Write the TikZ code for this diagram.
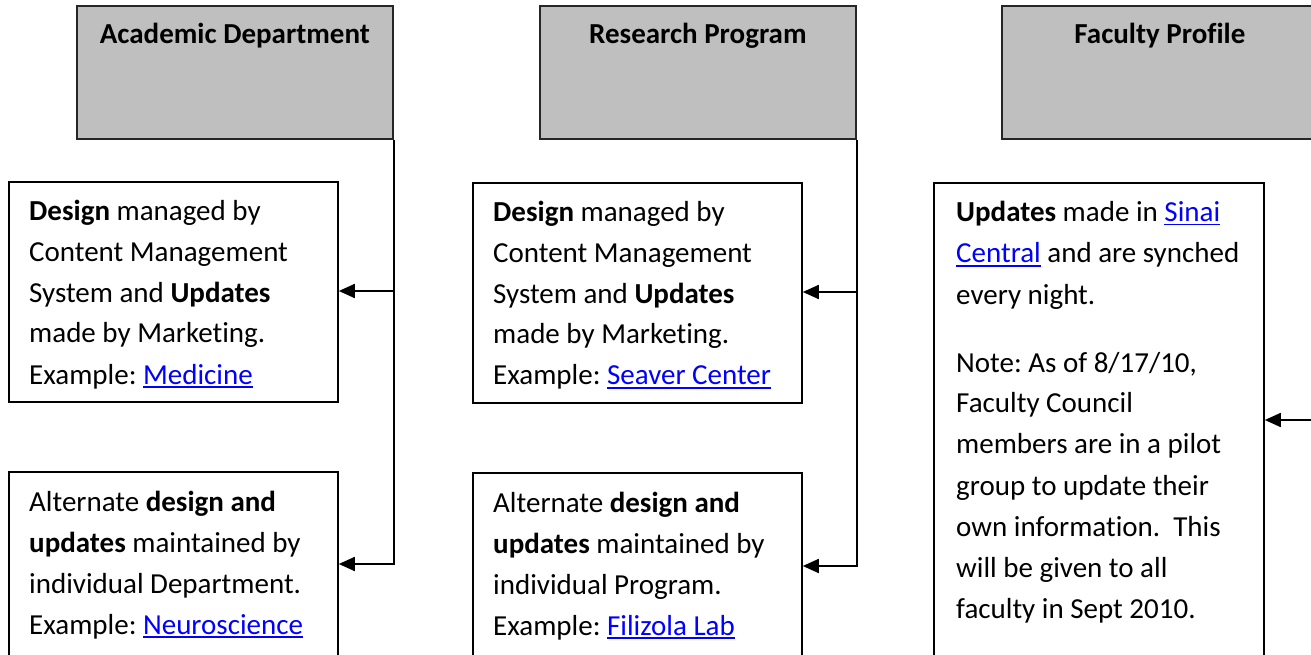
\documentclass[tikz,border=0pt]{standalone}
\usepackage{fontspec}
\setmainfont{Carlito}[Ligatures=NoCommon]
\usetikzlibrary{arrows.meta}
\definecolor{hdrgray}{RGB}{191,191,191}
\definecolor{linkblue}{RGB}{0,0,255}
\newcommand\lnk[1]{\textcolor{linkblue}{\setbox0\hbox{#1}\rlap{\rule[-3.5pt]{\wd0}{1.6pt}}\box0}}
\frenchspacing
\tikzset{
  hdr/.style={draw=black!85, line width=1.8pt, fill=hdrgray, anchor=north west, inner sep=0pt,
              minimum width=316pt, minimum height=133pt},
  infobox/.style={draw=black, line width=1.8pt, fill=white, anchor=north west, inner sep=0pt,
              minimum width=329pt},
  hdrtxt/.style={anchor=base, inner sep=0pt, font=\fontsize{29}{41}\selectfont\bfseries},
  bodytxt/.style={anchor=base west, inner sep=0pt, font=\fontsize{29}{41}\selectfont, align=left},
  conn/.style={line width=1.8pt, draw=black},
  arr/.style={conn, -{Triangle[length=16pt,width=14pt]}}
}
\begin{document}
\begin{tikzpicture}[x=1pt,y=-1pt]
\useasboundingbox (0,0) rectangle (1311,655);
\clip (0,0) rectangle (1311,655);
% headers
\node[hdr] (hA) at (76,5) {};
\node[hdr] (hB) at (539,5) {};
\node[hdr] (hC) at (1001,5) {};
\coordinate (yh) at (0,44);
\node[hdrtxt] (hAt) at (hA.north |- yh) {Academic Department};
\node[hdrtxt] (hBt) at (hB.north |- yh) {Research Program};
\node[hdrtxt] (hCt) at (hC.north |- yh) {Faculty Profile};
% boxes
\node[infobox, minimum height=220pt] (a1) at (8,181) {};
\node[infobox, minimum height=260pt] (a2) at (8,471) {};
\node[infobox, minimum height=220pt] (b1) at (472,182) {};
\node[infobox, minimum height=260pt] (b2) at (472,472) {};
\node[infobox, minimum width=330pt, minimum height=540pt] (c1) at (933,182) {};
% texts
\node[bodytxt] (a1t) at (29,220) {\parbox[t]{300pt}{\textbf{Design} managed by\\
Content Management\\
System and \textbf{Updates}\\
made by Marketing.\\
Example: \lnk{Medicine}}};
\node[bodytxt] (a2t) at (29,511) {\parbox[t]{300pt}{Alternate \textbf{design and}\\
\textbf{updates} maintained by\\
individual Department.\\
Example: \lnk{Neuroscience}}};
\node[bodytxt] (b1t) at (493,221) {\parbox[t]{300pt}{\textbf{Design} managed by\\
Content Management\\
System and \textbf{Updates}\\
made by Marketing.\\
Example: \lnk{Seaver Center}}};
\node[bodytxt] (b2t) at (493,512) {\parbox[t]{300pt}{Alternate \textbf{design and}\\
\textbf{updates} maintained by\\
individual Program.\\
Example: \lnk{Filizola Lab}}};
\node[bodytxt] (c1t) at (956,222) {\parbox[t]{300pt}{\textbf{Updates} made in \lnk{Sinai}\\
\lnk{Central} and are synched\\
every night.\\[27pt]
Note: As of 8/17/10,\\
Faculty Council\\
members are in a pilot\\
group to update their\\
own information.\ \ This\\
will be given to all\\
faculty in Sept 2010.}};
% connectors
\coordinate (ya1) at (0,291);
\coordinate (ya2) at (0,564);
\coordinate (yb1) at (0,292);
\coordinate (yb2) at (0,566);
\coordinate (yc1) at (0,420);
\draw[arr] (hA.south east) |- (a2.east |- ya2);
\draw[arr] (hA.south east |- ya1) -- (a1.east |- ya1);
\draw[arr] (hB.south east) |- (b2.east |- yb2);
\draw[arr] (hB.south east |- yb1) -- (b1.east |- yb1);
\draw[arr] (hC.south east) |- (c1.east |- yc1);
\end{tikzpicture}
\end{document}
